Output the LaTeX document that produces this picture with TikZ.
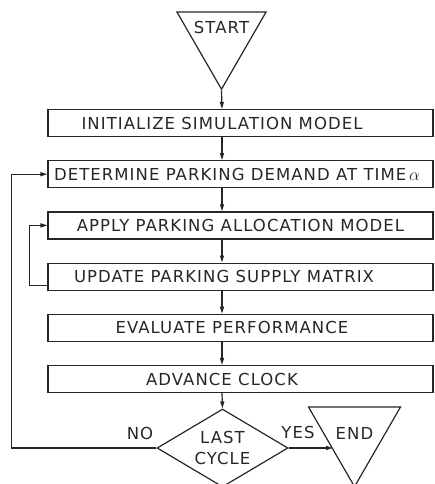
\documentclass[tikz,border=0pt]{standalone}
\usepackage{fontspec}
\setmainfont{DejaVu Sans}[LetterSpace=6.4]
\usepackage{tikz}
\usetikzlibrary{shapes.geometric}
\usetikzlibrary{arrows.meta}
\usetikzlibrary{positioning}
\newcommand{\lft}[1]{\hspace*{#1}}
\begin{document}
\begin{tikzpicture}[x=1pt,y=-1pt,node distance=23pt,line width=1.2pt,
          every node/.style={font=\fontsize{16.5}{21}\selectfont,text=black!85},
          box/.style={draw=black!85,minimum width=385pt,minimum height=27pt,inner sep=0pt},
          tri/.style={draw=black!85,regular polygon,regular polygon sides=3,shape border rotate=180,inner sep=0pt},
          arr/.style={draw=black!85,-{Triangle[length=7pt,width=4pt]}}]
  \useasboundingbox (0,0) rectangle (434,484);
  \coordinate (spine) at (222,0);
  \node[tri,minimum size=103pt,label={[yshift=10pt]center:START}](start) at (221.5,37.7){};
  \node[box](b1) at (240.5,123){INITIALIZE SIMULATION MODEL\lft{37pt}};
  \node[box,below=of b1](b2){DETERMINE PARKING DEMAND AT TIME\,$\alpha$\lft{7pt}};
  \node[box,below=of b2](b3){APPLY PARKING ALLOCATION MODEL};
  \node[box,below=of b3](b4){UPDATE PARKING SUPPLY MATRIX\lft{33pt}};
  \node[box,below=of b4](b5){EVALUATE PERFORMANCE\lft{17pt}};
  \node[box,below=of b5](b6){ADVANCE CLOCK\lft{37pt}};
  \node[diamond,draw=black!85,minimum width=131pt,minimum height=78pt,aspect=1.68,inner sep=0pt,align=center](dec) at (222.5,448){LAST\\CYCLE};
  \node[tri,minimum size=98pt](stop) at (354.5,433.5){END};
  \node(no) at (140,433){NO};
  \node(yes) at (298,432){YES};
  \coordinate (stopin) at (333,448);
  % main flow
  \draw[arr](start.south)--(b1.north -| spine);
  \draw[arr](b1.south -| spine)--(b2.north -| spine);
  \draw[arr](b2.south -| spine)--(b3.north -| spine);
  \draw[arr](b3.south -| spine)--(b4.north -| spine);
  \draw[arr](b4.south -| spine)--(b5.north -| spine);
  \draw[arr](b5.south -| spine)--(b6.north -| spine);
  \draw[arr](b6.south -| spine)--(dec.north);
  \draw[arr](dec.east)--(stopin);
  % loops back
  \draw[arr]([yshift=-9pt]b4.west)--++(-18,0)|-(b3.west);
  \draw[arr](dec.west)-|([xshift=-36pt]b2.west)--(b2.west);
\end{tikzpicture}
\end{document}
